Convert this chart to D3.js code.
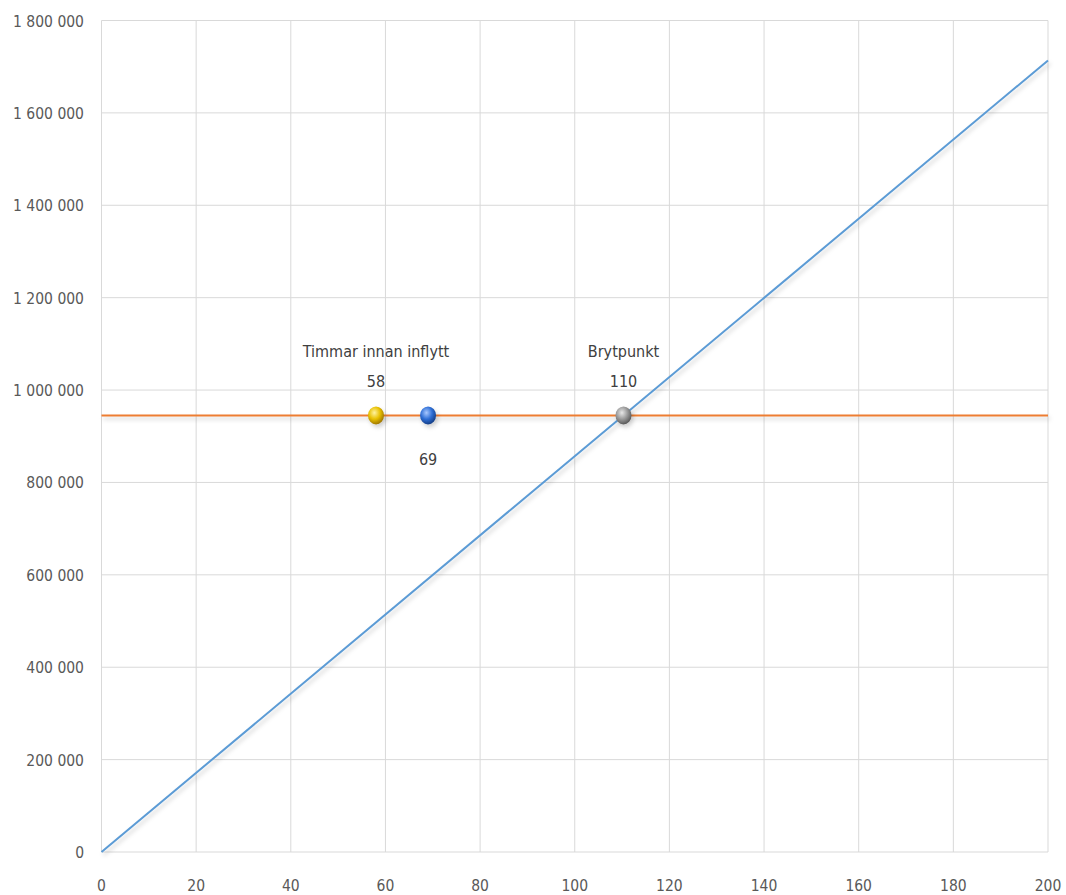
<!DOCTYPE html>
<html><head><meta charset="utf-8">
<script src="https://cdn.jsdelivr.net/npm/d3@7"></script>
<style>body{margin:0;background:#fff}svg{display:block}</style>
</head><body>
<svg id="c" width="1066" height="895"></svg>
<script>
const xTicks = [0,20,40,60,80,100,120,140,160,180,200];
const yTicks = [0,200000,400000,600000,800000,1000000,1200000,1400000,1600000,1800000];
const costLineX = [0,200];
const costLineY = [0,1713600];
const fixedLineX = [0,200];
const fixedLineY = [945000,945000];
const pointNames = ["Timmar innan inflytt","","Brytpunkt"];
const pointX = [58,69,110.3];
const pointY = [945000,945000,945000];
const pointLabels = ["58","69","110"];
const pointColors = [["#fff3a0","#e8c000","#a07800"],["#a8c8ff","#2f6fd6","#163f88"],["#e8e8e8","#9a9a9a","#5a5a5a"]];

const svg = d3.select("#c");
const L=101.5,R=1048,T=20.5,B=852;
const x = d3.scaleLinear().domain([0,200]).range([L,R]);
const y = d3.scaleLinear().domain([0,1800000]).range([B,T]);
const font = "'Liberation Sans Narrow','DejaVu Sans Condensed',sans-serif";
const fmt = v => d3.format(",")(v).replace(/,/g," ");

const defs = svg.append("defs");
pointColors.forEach((c,i)=>{
  const g = defs.append("radialGradient").attr("id","g"+i).attr("cx","40%").attr("cy","35%").attr("r","65%");
  g.append("stop").attr("offset","0%").attr("stop-color",c[0]);
  g.append("stop").attr("offset","55%").attr("stop-color",c[1]);
  g.append("stop").attr("offset","100%").attr("stop-color",c[2]);
});
const f = defs.append("filter").attr("id","sh").attr("filterUnits","userSpaceOnUse")
  .attr("x",0).attr("y",0).attr("width",1066).attr("height",895);
f.append("feDropShadow").attr("dx",2).attr("dy",3).attr("stdDeviation",2).attr("flood-color","#000").attr("flood-opacity",0.18);

// grid
svg.append("g").selectAll("line").data(xTicks).join("line")
  .attr("x1",d=>x(d)).attr("x2",d=>x(d)).attr("y1",T).attr("y2",B)
  .attr("stroke","#d9d9d9").attr("stroke-width",1);
svg.append("g").selectAll("line").data(yTicks).join("line")
  .attr("x1",L).attr("x2",R).attr("y1",d=>y(d)).attr("y2",d=>y(d))
  .attr("stroke","#d9d9d9").attr("stroke-width",1);

// axis labels
svg.append("g").selectAll("text").data(yTicks).join("text")
  .attr("x",84).attr("y",d=>y(d)+6).attr("text-anchor","end")
  .attr("font-family",font).attr("font-size",15.5).attr("fill","#595959").text(fmt);
svg.append("g").selectAll("text").data(xTicks).join("text")
  .attr("x",d=>x(d)).attr("y",891).attr("text-anchor","middle")
  .attr("font-family",font).attr("font-size",15.5).attr("fill","#595959").text(d=>d);

const line = d3.line().x(d=>x(d[0])).y(d=>y(d[1]));
svg.append("path").datum(fixedLineX.map((v,i)=>[v,fixedLineY[i]])).attr("d",line)
  .attr("fill","none").attr("stroke","#ED7D31").attr("stroke-width",2).attr("filter","url(#sh)");
svg.append("path").datum(costLineX.map((v,i)=>[v,costLineY[i]])).attr("d",line)
  .attr("fill","none").attr("stroke","#5B9BD5").attr("stroke-width",2).attr("filter","url(#sh)");

// points
svg.append("g").selectAll("ellipse").data(pointX).join("ellipse")
  .attr("cx",d=>x(d)).attr("cy",(d,i)=>y(pointY[i])).attr("rx",8).attr("ry",9)
  .attr("fill",(d,i)=>`url(#g${i})`).attr("filter","url(#sh)");

// labels
pointX.forEach((px,i)=>{
  const cx = x(px), cy = y(pointY[i]);
  if(pointNames[i]){
    svg.append("text").attr("x",cx).attr("y",cy-58).attr("text-anchor","middle")
      .attr("font-family",font).attr("font-size",16).attr("fill","#404040").text(pointNames[i]);
    svg.append("text").attr("x",cx).attr("y",cy-28).attr("text-anchor","middle")
      .attr("font-family",font).attr("font-size",16).attr("fill","#404040").text(pointLabels[i]);
  } else {
    svg.append("text").attr("x",cx).attr("y",cy+50).attr("text-anchor","middle")
      .attr("font-family",font).attr("font-size",16).attr("fill","#404040").text(pointLabels[i]);
  }
});
</script>
</body></html>
